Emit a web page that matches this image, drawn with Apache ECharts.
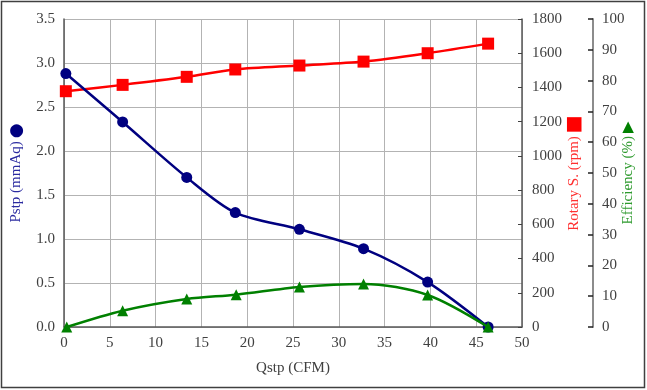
<!DOCTYPE html>
<html>
<head>
<meta charset="utf-8">
<script src="https://cdn.jsdelivr.net/npm/echarts@6/dist/echarts.min.js"></script>
<style>html,body{margin:0;padding:0;background:#fff;}#c{width:647px;height:390px;}</style>
</head>
<body>
<div id="c"></div>
<script>
const flow = [0.2, 6.4, 13.4, 18.7, 25.7, 32.7, 39.7, 46.3];
const pstp = [2.88, 2.33, 1.70, 1.30, 1.11, 0.89, 0.51, 0.0];
const rpm = [1378, 1415, 1462, 1505, 1528, 1551, 1600, 1656];
const effFlow = [0.3, 6.4, 13.4, 18.8, 25.7, 32.7, 39.7, 46.3];
const eff = [0.0, 5.3, 9.1, 10.5, 13.0, 14.0, 10.4, 0.0];

const font = 'Liberation Serif';
const tickColor = '#404040';

const chart = echarts.init(document.getElementById('c'));
chart.setOption({
  animation: false,
  backgroundColor: '#fff',
  textStyle: { fontFamily: font },
  graphic: [{
    type: 'rect', shape: { x: 1.5, y: 1.5, width: 643, height: 386 },
    style: { fill: 'none', stroke: '#404040', lineWidth: 1.5 }, silent: true
  }],
  grid: { left: 64, right: 125, top: 19, bottom: 63, containLabel: false, outerBoundsMode: 'none' },
  xAxis: {
    type: 'value', min: 0, max: 50, interval: 5,
    name: 'Qstp (CFM)', nameLocation: 'middle', nameGap: 34,
    nameTextStyle: { fontFamily: font, fontSize: 15, color: '#404040' },
    axisLine: { lineStyle: { color: '#595959', width: 1.5 } },
    axisTick: { show: false },
    axisLabel: { fontFamily: font, fontSize: 15, color: tickColor, margin: 9 },
    splitLine: { show: true, lineStyle: { color: '#b3b3b3', width: 1 } }
  },
  yAxis: [{
    type: 'value', min: 0, max: 3.5, interval: 0.5,
    name: '{t|Pstp (mmAq)} {s|●}', nameLocation: 'middle', nameGap: 39,
    nameTextStyle: { rich: {
      t: { fontFamily: font, fontSize: 15, color: '#2a2aa0' },
      s: { fontFamily: 'DejaVu Sans', fontSize: 17, color: '#000080' } } },
    axisLine: { show: true, lineStyle: { color: '#595959', width: 1.5 } },
    axisTick: { show: false },
    axisLabel: { fontFamily: font, fontSize: 15, color: tickColor, margin: 9,
      formatter: v => v.toFixed(1) },
    splitLine: { show: true, lineStyle: { color: '#b3b3b3', width: 1 } }
  }, {
    type: 'value', min: 0, max: 1800, interval: 200, position: 'right',
    name: '{t|Rotary S. (rpm)} {s|■}', nameLocation: 'middle', nameGap: 43,
    nameMoveOverlap: false,
    nameTextStyle: { rich: {
      t: { fontFamily: font, fontSize: 15, color: '#ff3030' },
      s: { fontFamily: 'DejaVu Sans', fontSize: 19, color: '#ff0000' } } },
    axisLine: { show: true, lineStyle: { color: '#595959', width: 1.5 } },
    axisTick: { show: true, inside: true, length: 4, lineStyle: { color: '#404040' } },
    axisLabel: { fontFamily: font, fontSize: 15, color: tickColor, margin: 10,
      formatter: v => String(v) },
    splitLine: { show: false }
  }, {
    type: 'value', min: 0, max: 100, interval: 10, position: 'right', offset: 71,
    name: '{t|Efficiency (%)} {s|▶}', nameLocation: 'middle', nameGap: 28,
    nameMoveOverlap: false,
    nameTextStyle: { rich: {
      t: { fontFamily: font, fontSize: 15, color: '#2e9a2e' },
      s: { fontFamily: 'DejaVu Sans', fontSize: 15, color: '#008000' } } },
    axisLine: { show: true, lineStyle: { color: '#8c8c8c', width: 2 } },
    axisTick: { show: true, inside: true, length: 5, lineStyle: { color: '#202020', width: 1.5 } },
    axisLabel: { fontFamily: font, fontSize: 15, color: tickColor, margin: 9 },
    splitLine: { show: false }
  }],
  series: [{
    name: 'Pstp', type: 'line', yAxisIndex: 0, smooth: 0.3,
    data: flow.map((x, i) => [x, pstp[i]]),
    symbol: 'circle', symbolSize: 11,
    lineStyle: { color: '#000080', width: 2.5 }, itemStyle: { color: '#000080' }, z: 3
  }, {
    name: 'Rotary', type: 'line', yAxisIndex: 1, smooth: 0.3,
    data: flow.map((x, i) => [x, rpm[i]]),
    symbol: 'rect', symbolSize: 12,
    lineStyle: { color: '#ff0000', width: 2.5 }, itemStyle: { color: '#ff0000' }, z: 2
  }, {
    name: 'Efficiency', type: 'line', yAxisIndex: 2, smooth: 0.3,
    data: effFlow.map((x, i) => [x, eff[i]]),
    symbol: 'triangle', symbolSize: 11,
    lineStyle: { color: '#008000', width: 2.5 }, itemStyle: { color: '#008000' }, z: 4
  }]
});
</script>
</body>
</html>
